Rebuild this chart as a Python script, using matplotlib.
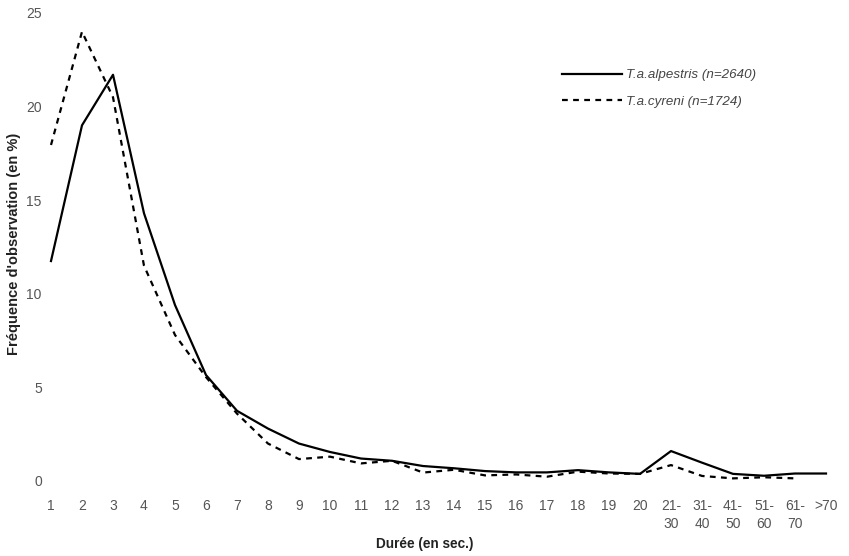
import matplotlib
matplotlib.use("Agg")
import matplotlib.pyplot as plt

categories = ["1", "2", "3", "4", "5", "6", "7", "8", "9", "10", "11", "12", "13",
              "14", "15", "16", "17", "18", "19", "20", "21-\n30", "31-\n40",
              "41-\n50", "51-\n60", "61-\n70", ">70"]
alpestris = [11.75, 19.0, 21.7, 14.3, 9.4, 5.66, 3.75, 2.8, 2.0, 1.55, 1.2, 1.08, 0.8,
             0.68, 0.53, 0.46, 0.46, 0.58, 0.46, 0.38, 1.6, 0.98, 0.38, 0.28, 0.4, 0.4]
cyreni = [17.95, 24.0, 20.5, 11.5, 7.8, 5.55, 3.6, 2.0, 1.17, 1.3, 0.94, 1.08, 0.45,
          0.6, 0.3, 0.35, 0.23, 0.5, 0.4, 0.38, 0.85, 0.27, 0.14, 0.2, 0.14]
yticks = [0, 5, 10, 15, 20, 25]

plt.rcParams['font.family'] = ['Liberation Sans Narrow', 'Liberation Sans', 'DejaVu Sans']

W, H = 849, 556
fig = plt.figure(figsize=(W / 100, H / 100), dpi=100)
left_px, right_px, bot_px, top_px = 46, 842, 481, 13
ax = fig.add_axes([left_px / W, 1 - bot_px / H, (right_px - left_px) / W, (bot_px - top_px) / H])

x = list(range(1, len(categories) + 1))
ax.plot(x, alpestris, color='black', lw=1.6, label='T.a.alpestris (n=2640)', clip_on=False)
ax.plot(x[:len(cyreni)], cyreni, color='black', lw=1.6, linestyle=(0, (2.6, 2.4)),
        label='T.a.cyreni (n=1724)', clip_on=False)

ax.set_xlim(1 - (51 - left_px) / 31.0, 1 + (right_px - 51) / 31.0)
ax.set_ylim(0, 25)
ax.set_xticks(x)
ax.set_xticklabels(categories, fontsize=10, color='#555555', linespacing=1.35, va='top')
ax.set_yticks(yticks)
ax.set_yticklabels([str(v) for v in yticks], fontsize=10, color='#555555')
ax.tick_params(axis='both', length=0)
ax.tick_params(axis='x', pad=13)
ax.tick_params(axis='y', pad=3)
for s in ax.spines.values():
    s.set_visible(False)

fig.text(425 / W, 1 - 544 / H, 'Durée (en sec.)', ha='center', va='center',
         fontsize=9.8, fontweight='bold', color='#222222')
fig.text(14 / W, 1 - 244 / H, "Fréquence d'observation (en %)", ha='center', va='center',
         rotation=90, fontsize=10.5, fontweight='bold', color='#222222',
         family=['Liberation Sans', 'DejaVu Sans'])

leg = ax.legend(loc='upper left', bbox_to_anchor=(562 / W, 1 - 69 / H),
                bbox_transform=fig.transFigure, frameon=False, borderpad=0,
                borderaxespad=0, handlelength=4.5, handletextpad=0.3,
                labelspacing=1.05, prop={'style': 'italic', 'size': 9.6})
for t in leg.get_texts():
    t.set_color('#444444')

fig.savefig('out.png', dpi=100)
